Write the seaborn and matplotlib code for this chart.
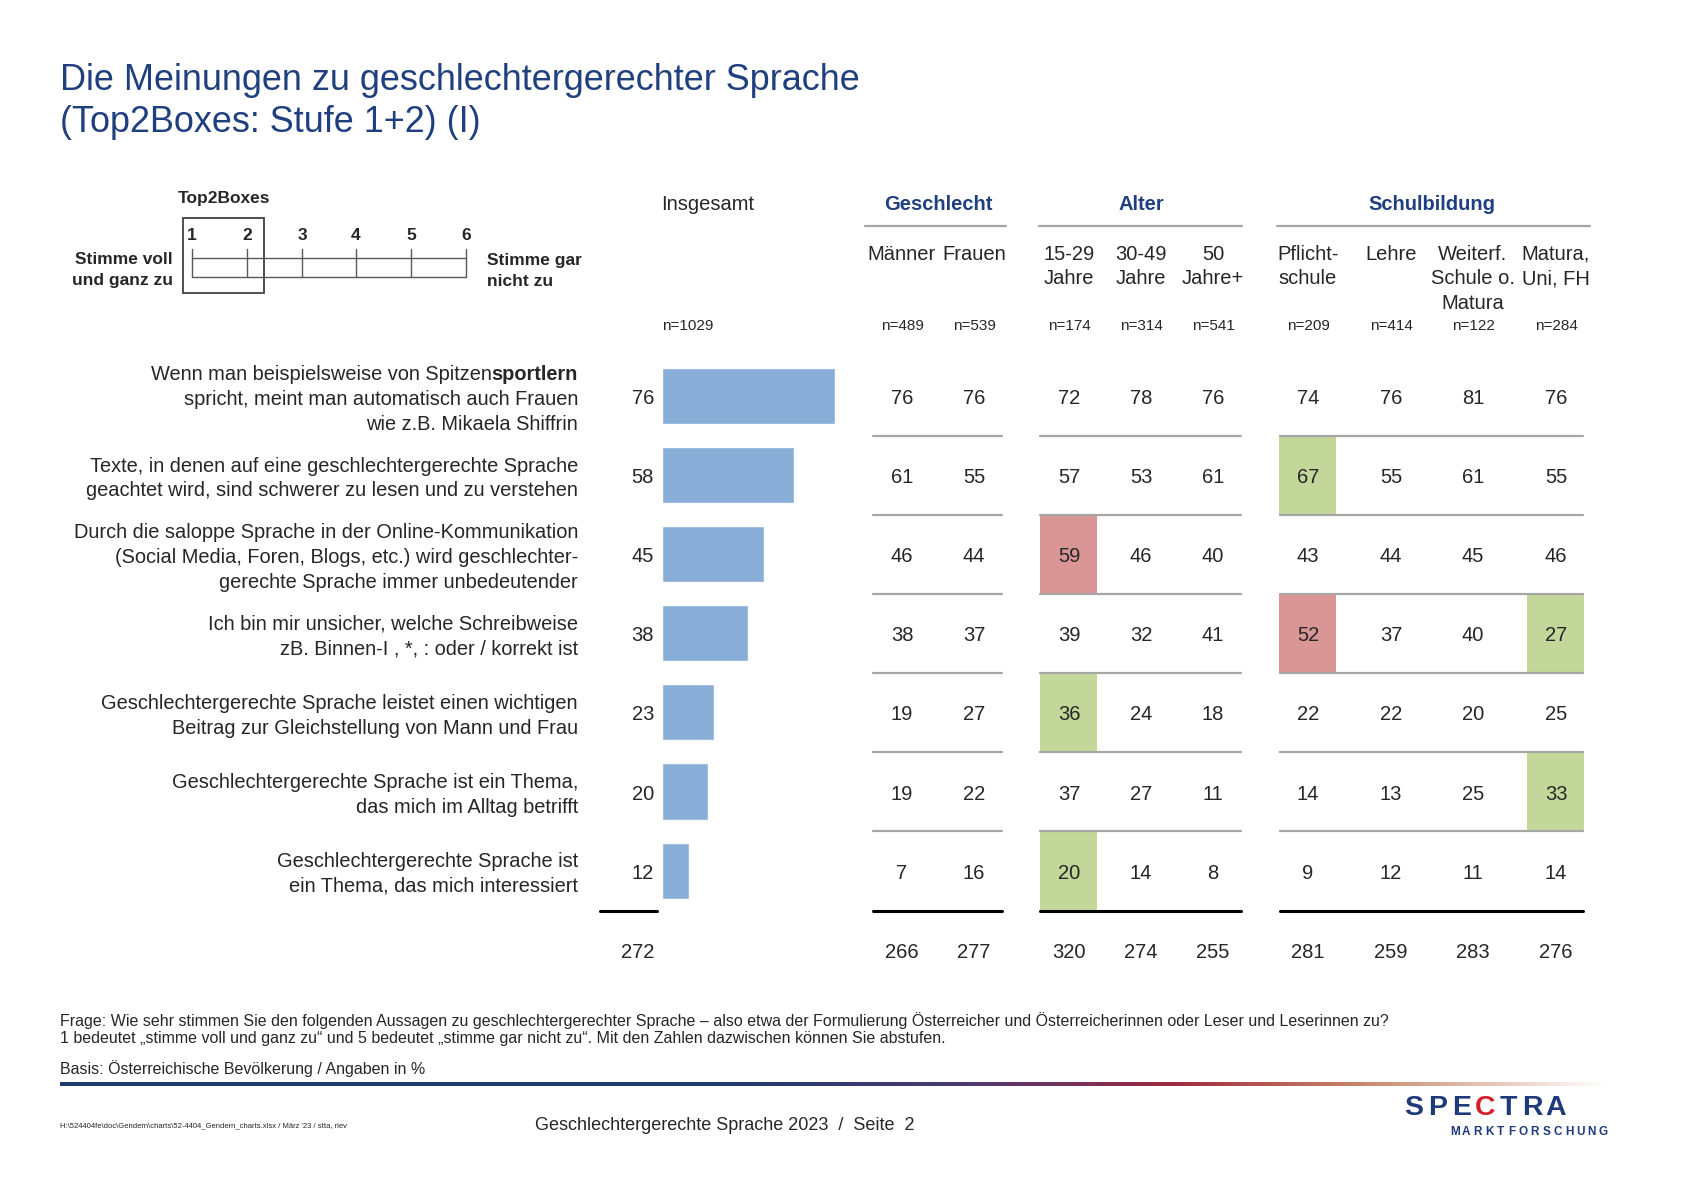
import numpy as np
import pandas as pd
import matplotlib
matplotlib.use('Agg')
import matplotlib.pyplot as plt
import seaborn as sns
from matplotlib.patches import Rectangle
from matplotlib.colors import LinearSegmentedColormap

# ---- data ----
statements = [
    ["Wenn man beispielsweise von Spitzen**sportlern**",
     "spricht, meint man automatisch auch Frauen",
     "wie z.B. Mikaela Shiffrin"],
    ["Texte, in denen auf eine geschlechtergerechte Sprache",
     "geachtet wird, sind schwerer zu lesen und zu verstehen"],
    ["Durch die saloppe Sprache in der Online-Kommunikation",
     "(Social Media, Foren, Blogs, etc.) wird geschlechter-",
     "gerechte Sprache immer unbedeutender"],
    ["Ich bin mir unsicher, welche Schreibweise",
     "zB. Binnen-I , *, : oder / korrekt ist"],
    ["Geschlechtergerechte Sprache leistet einen wichtigen",
     "Beitrag zur Gleichstellung von Mann und Frau"],
    ["Geschlechtergerechte Sprache ist ein Thema,",
     "das mich im Alltag betrifft"],
    ["Geschlechtergerechte Sprache ist",
     "ein Thema, das mich interessiert"],
]
insgesamt = [76, 58, 45, 38, 23, 20, 12]
n_insgesamt = 1029

segments = [["Männer"], ["Frauen"], ["15-29", "Jahre"], ["30-49", "Jahre"], ["50", "Jahre+"],
            ["Pflicht-", "schule"], ["Lehre"], ["Weiterf.", "Schule o.", "Matura"], ["Matura,", "Uni, FH"]]
seg_n = [489, 539, 174, 314, 541, 209, 414, 122, 284]

maenner = [76, 61, 46, 38, 19, 19, 7]
frauen = [76, 55, 44, 37, 27, 22, 16]
alter_1529 = [72, 57, 59, 39, 36, 37, 20]
alter_3049 = [78, 53, 46, 32, 24, 27, 14]
alter_50 = [76, 61, 40, 41, 18, 11, 8]
pflichtschule = [74, 67, 43, 52, 22, 14, 9]
lehre = [76, 55, 44, 37, 22, 13, 12]
weiterf = [81, 61, 45, 40, 20, 25, 11]
matura = [76, 55, 46, 27, 25, 33, 14]
seg_values = [maenner, frauen, alter_1529, alter_3049, alter_50, pflichtschule, lehre, weiterf, matura]

# 0 = none, 1 = significantly above (green), 2 = significantly below (red)
hl_none = [0, 0, 0, 0, 0, 0, 0]
hl_1529 = [0, 0, 2, 0, 1, 0, 1]
hl_pflicht = [0, 1, 0, 2, 0, 0, 0]
hl_matura = [0, 0, 0, 1, 0, 1, 0]
seg_highlight = [hl_none, hl_none, hl_1529, hl_none, hl_none, hl_pflicht, hl_none, hl_none, hl_matura]

groups = ["Geschlecht", "Alter", "Schulbildung"]
group_cols = [[0, 1], [2, 3, 4], [5, 6, 7, 8]]

# ---- layout (pixels) ----
W, H = 1683, 1190
row_h = 79.1
row_y = [396 + row_h * i for i in range(len(insgesamt))]
col_x = [902, 974, 1069, 1141, 1213, 1308, 1391, 1473, 1556]
group_line = [(873, 1002), (1040, 1241), (1280, 1583)]
group_head_line = [(865, 1006), (1039, 1242), (1277, 1590)]
tot_line = (600, 657)
bar_left, bar_scale = 662, 2.276
DY = 2.5  # text centring offset (matplotlib centres on the full glyph box)

NAVY = "#1f3f7f"
BAR = "#88aed8"
GREEN = "#c4d79b"
RED = "#d99694"
GRID = "#a6a6a6"
hl_colors = {1: GREEN, 2: RED}

sns.set_theme(style="white")
plt.rcParams['font.family'] = ['Liberation Sans', 'DejaVu Sans']

fig = plt.figure(figsize=(W / 100, H / 100), dpi=100)
ax = fig.add_axes([0, 0, 1, 1])
ax.set_xlim(0, W)
ax.set_ylim(H, 0)
ax.axis('off')

# title
ax.text(60, 81, "Die Meinungen zu geschlechtergerechter Sprache", fontsize=25.9, color=NAVY, va='center')
ax.text(60, 122, "(Top2Boxes: Stufe 1+2) (I)", fontsize=25.9, color=NAVY, va='center')

# Top2Boxes scale legend
ax.text(224, 198, "Top2Boxes", fontsize=12.5, fontweight='bold', ha='center', va='center')
tick_x = [192, 247, 302, 356, 411, 466]
for i, tx in enumerate(tick_x):
    ax.text(tx, 235, str(i + 1), fontsize=12.5, fontweight='bold', ha='center', va='center')
    ax.plot([tx, tx], [249, 277], color="#595959", lw=1)
ax.plot([tick_x[0], tick_x[-1]], [258, 258], color="#595959", lw=1)
ax.plot([tick_x[0], tick_x[-1]], [277, 277], color="#595959", lw=1)
ax.add_patch(Rectangle((183, 218), 81, 75, fill=False, edgecolor="#404040", lw=1.3))
ax.text(173, 260, "Stimme voll", fontsize=12.5, fontweight='bold', ha='right', va='center')
ax.text(173, 281, "und ganz zu", fontsize=12.5, fontweight='bold', ha='right', va='center')
ax.text(487, 260, "Stimme gar", fontsize=12.5, fontweight='bold', ha='left', va='center')
ax.text(487, 281, "nicht zu", fontsize=12.5, fontweight='bold', ha='left', va='center')

# column headers
ax.text(708, 205, "Insgesamt", fontsize=14.5, ha='center', va='center')
ax.text(688, 326, f"n={n_insgesamt}", fontsize=11, ha='center', va='center')
for g, name in enumerate(groups):
    cx = np.mean([col_x[c] for c in group_cols[g]])
    ax.text(cx, 205, name, fontsize=14.5, fontweight='bold', color=NAVY, ha='center', va='center')
    x0, x1 = group_head_line[g]
    ax.plot([x0, x1], [226, 226], color=GRID, lw=1.6)
for c, lines in enumerate(segments):
    for k, ln in enumerate(lines):
        ax.text(col_x[c], 254 + 24.7 * k, ln, fontsize=14.5, ha='center', va='center')
    ax.text(col_x[c], 326, f"n={seg_n[c]}", fontsize=11, ha='center', va='center')

# statement labels (right aligned, bold part handled separately)
renderer = fig.canvas.get_renderer()
LBL_X = 578
for r, lines in enumerate(statements):
    y0 = row_y[r] + DY + 1 - 24.7 * (len(lines) - 1) / 2
    for k, ln in enumerate(lines):
        y = y0 + 24.7 * k
        if "**" in ln:
            normal, bold = ln.split("**")[0], ln.split("**")[1]
            tb = ax.text(LBL_X, y, bold, fontsize=14.4, fontweight='bold', ha='right', va='center')
            bw = tb.get_window_extent(renderer).width
            ax.text(LBL_X - bw, y, normal, fontsize=14.4, ha='right', va='center')
        else:
            ax.text(LBL_X, y, ln, fontsize=14.4, ha='right', va='center')

# highlighted cells
for c in range(len(col_x)):
    for r, code in enumerate(seg_highlight[c]):
        if code:
            ax.bar(col_x[c], row_h, width=57, bottom=row_y[r] - row_h / 2,
                   color=hl_colors[code], zorder=1, linewidth=0)

# table values and row separators
for c in range(len(col_x)):
    for r, v in enumerate(seg_values[c]):
        ax.text(col_x[c], row_y[r] + DY, str(v), fontsize=14.5, ha='center', va='center', zorder=3)
    ax.text(col_x[c], 953, str(sum(seg_values[c])), fontsize=14.5, ha='center', va='center')
for r in range(len(row_y) - 1):
    y = row_y[r] + row_h / 2
    for x0, x1 in group_line:
        ax.plot([x0, x1], [y, y], color=GRID, lw=1.6, zorder=2)
for x0, x1 in group_line + [tot_line]:
    ax.plot([x0, x1], [911, 911], color="black", lw=2.2, zorder=2)

# Insgesamt values
for r, v in enumerate(insgesamt):
    ax.text(654, row_y[r] + DY, str(v), fontsize=14.5, ha='right', va='center')
ax.text(638, 953, str(sum(insgesamt)), fontsize=14.5, ha='center', va='center')

# footnotes
ax.text(60, 1021, "Frage: Wie sehr stimmen Sie den folgenden Aussagen zu geschlechtergerechter Sprache \u2013 also etwa der "
        "Formulierung Österreicher und Österreicherinnen oder Leser und Leserinnen zu?", fontsize=11.5, va='center')
ax.text(60, 1039, "1 bedeutet \u201estimme voll und ganz zu\u201c und 5 bedeutet \u201estimme gar nicht zu\u201c. "
        "Mit den Zahlen dazwischen können Sie abstufen.", fontsize=11.5, va='center')
ax.text(60, 1069, "Basis: Österreichische Bevölkerung / Angaben in %", fontsize=11.5, va='center')

# gradient rule
cmap = LinearSegmentedColormap.from_list("rule", [(0, "#1f3a6e"), (0.42, "#1f3a6e"), (0.58, "#4a3a72"),
                                                  (0.72, "#a02a40"), (0.84, "#c8876a"), (1.0, "#ffffff")])
ax.imshow(np.linspace(0, 1, 600).reshape(1, -1), cmap=cmap, aspect='auto',
          extent=[60, 1612, 1086, 1082], zorder=1)

# footer
ax.text(60, 1126, "H:\\524404fe\\doc\\Gendern\\charts\\52-4404_Gendern_charts.xlsx / März '23 / stta, riev",
        fontsize=5.5, va='center')
ax.text(725, 1126, "Geschlechtergerechte Sprache 2023  /  Seite  2", fontsize=13, ha='center', va='center')
for i, ch in enumerate("SPECTRA"):
    ax.text(1414 + 23.6 * i, 1108, ch, fontsize=20.5, fontweight='bold', ha='center', va='center',
            color="#d4202a" if ch == "C" else "#1f3a7a")
for i, ch in enumerate("MARKTFORSCHUNG"):
    ax.text(1455 + 11.4 * i, 1132, ch, fontsize=8.5, fontweight='bold', ha='center', va='center', color="#1f3a7a")

ax.set_xlim(0, W)
ax.set_ylim(H, 0)

# Insgesamt bars
bx = fig.add_axes([bar_left / W, 1 - (row_y[-1] + row_h / 2) / H, 100 * bar_scale / W, row_h * len(row_y) / H])
df = pd.DataFrame({"statement": [f"s{i}" for i in range(len(insgesamt))], "value": insgesamt})
sns.barplot(data=df, x="value", y="statement", color=BAR, saturation=1, width=0.71, ax=bx)
bx.set_xlim(0, 100)
bx.set_ylim(len(insgesamt) - 0.5, -0.5)
bx.patch.set_alpha(0)
bx.axis('off')

fig.savefig("out.png", dpi=100)
